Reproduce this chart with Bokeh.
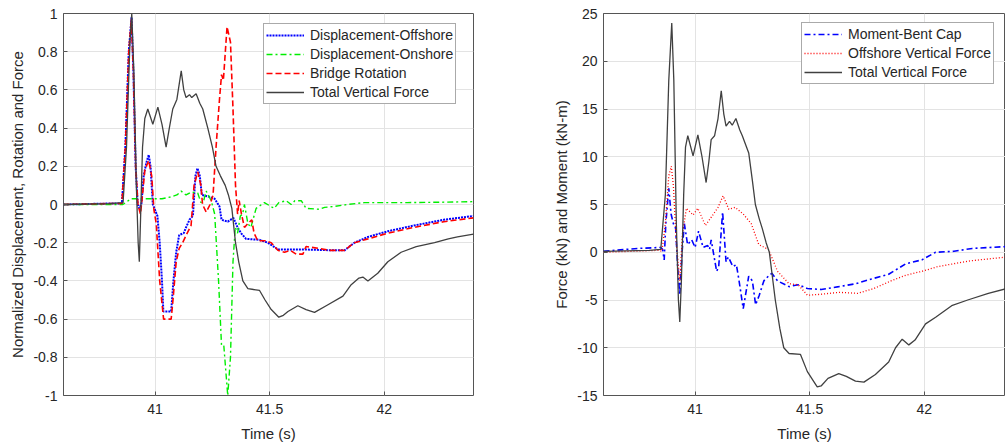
from bokeh.plotting import figure
from bokeh.layouts import row
from bokeh.models import FixedTicker
from bokeh.embed import file_html
from bokeh.resources import INLINE

# ---------------- Left panel data (normalized) ----------------
t_force_n = [40.60, 40.80, 40.86, 40.875, 40.89, 40.898, 40.907, 40.918, 40.926, 40.931, 40.937, 40.945,
             40.955, 40.968, 40.99, 41.012, 41.03, 41.048, 41.062, 41.077, 41.095, 41.114, 41.125, 41.135,
             41.15, 41.16, 41.179, 41.195, 41.208, 41.23, 41.25, 41.266, 41.285, 41.306, 41.32, 41.335,
             41.351, 41.365, 41.383, 41.405, 41.43, 41.456, 41.48, 41.507, 41.54, 41.56, 41.58, 41.623,
             41.659, 41.696, 41.747, 41.82, 41.856, 41.89, 41.907, 41.929, 41.972, 42.016, 42.074, 42.14,
             42.22, 42.28, 42.32, 42.39]
force_n = [0.0, 0.005, 0.01, 0.3, 0.85, 1.0, 0.7, 0.1, -0.2, -0.3, -0.05, 0.3,
           0.45, 0.50, 0.42, 0.51, 0.42, 0.30, 0.40, 0.50, 0.55, 0.70, 0.60, 0.56,
           0.575, 0.56, 0.58, 0.53, 0.50, 0.40, 0.30, 0.20, 0.15, 0.10, 0.05, -0.02,
           -0.20, -0.30, -0.40, -0.44, -0.445, -0.45, -0.50, -0.55, -0.59, -0.58, -0.56, -0.53,
           -0.55, -0.565, -0.53, -0.48, -0.42, -0.385, -0.38, -0.40, -0.36, -0.30, -0.25, -0.22,
           -0.20, -0.18, -0.17, -0.155]

t_off = [40.60, 40.80, 40.855, 40.87, 40.885, 40.897, 40.905, 40.915, 40.924, 40.93, 40.94, 40.95,
         40.962, 40.972, 40.98, 40.99, 41.0, 41.01, 41.02, 41.03, 41.036, 41.07, 41.08, 41.092,
         41.105, 41.125, 41.135, 41.15, 41.165, 41.176, 41.185, 41.195, 41.204, 41.237, 41.26, 41.281,
         41.29, 41.317, 41.342, 41.36, 41.375, 41.397, 41.456, 41.492, 41.536, 41.638, 41.783, 41.827,
         41.87, 41.929, 42.016, 42.13, 42.26, 42.39]
disp_off = [0.0, 0.005, 0.005, 0.3, 0.8, 0.98, 0.7, 0.2, 0.0, -0.02, 0.0, 0.15,
            0.22, 0.26, 0.2, 0.0, -0.03, -0.06, -0.2, -0.4, -0.56, -0.56, -0.4, -0.25,
            -0.16, -0.15, -0.12, -0.08, -0.06, 0.15, 0.19, 0.15, 0.05, 0.04, 0.03, -0.01,
            -0.08, -0.09, -0.07, -0.12, -0.15, -0.18, -0.185, -0.20, -0.235, -0.235, -0.24, -0.24,
            -0.20, -0.17, -0.14, -0.11, -0.08, -0.06]

t_on = [40.60, 40.859, 40.895, 41.03, 41.07, 41.095, 41.114, 41.135, 41.157, 41.186, 41.20, 41.212,
        41.223, 41.245, 41.26, 41.277, 41.29, 41.30, 41.317, 41.329, 41.34, 41.35, 41.36, 41.372,
        41.382, 41.39, 41.405, 41.418, 41.441, 41.477, 41.505, 41.52, 41.54, 41.572, 41.594, 41.61,
        41.638, 41.659, 41.718, 41.74, 41.783, 41.84, 41.913, 42.1, 42.25, 42.39]
disp_on = [0.0, 0.0, 0.03, 0.03, 0.04, 0.05, 0.07, 0.05, 0.065, 0.06, 0.01, 0.02,
           0.07, 0.02, -0.05, -0.40, -0.74, -0.74, -1.0, -0.8, -0.3, -0.12, -0.15, -0.06,
           -0.05, 0.0, -0.1, -0.12, -0.02, 0.01, -0.01, -0.02, 0.01, 0.02, 0.0, 0.02,
           0.02, -0.02, -0.025, -0.015, -0.01, 0.0, 0.01, 0.01, 0.012, 0.015]

t_rot = [40.60, 40.80, 40.855, 40.87, 40.885, 40.896, 40.905, 40.915, 40.925, 40.936, 40.945, 40.955,
         40.972, 40.985, 40.995, 41.005, 41.02, 41.037, 41.07, 41.078, 41.092, 41.105, 41.12, 41.14,
         41.157, 41.17, 41.186, 41.20, 41.207, 41.223, 41.24, 41.253, 41.266, 41.281, 41.29, 41.298,
         41.314, 41.329, 41.34, 41.351, 41.36, 41.367, 41.377, 41.39, 41.405, 41.422, 41.432, 41.448,
         41.48, 41.507, 41.536, 41.565, 41.59, 41.616, 41.645, 41.659, 41.718, 41.76, 41.827, 41.87,
         41.929, 42.016, 42.13, 42.26, 42.39]
rotation = [0.0, 0.005, 0.005, 0.3, 0.8, 0.97, 0.7, 0.2, 0.0, -0.05, 0.05, 0.18,
            0.23, 0.15, -0.03, -0.1, -0.4, -0.60, -0.60, -0.5, -0.3, -0.23, -0.2, -0.15,
            -0.11, 0.1, 0.17, 0.1, 0.0, -0.04, 0.0, 0.05, 0.3, 0.55, 0.68, 0.65,
            0.93, 0.85, 0.5, 0.1, -0.05, 0.02, -0.05, -0.12, -0.1, -0.08, -0.15, -0.19,
            -0.19, -0.20, -0.24, -0.25, -0.24, -0.26, -0.26, -0.22, -0.23, -0.24, -0.24, -0.20,
            -0.18, -0.15, -0.12, -0.09, -0.07]

# ---------------- Right panel data (kN, kN-m) ----------------
t_force = [40.60, 40.80, 40.85, 40.87, 40.885, 40.898, 40.907, 40.918, 40.927, 40.933, 40.94, 40.95,
           40.958, 40.968, 40.991, 41.012, 41.03, 41.048, 41.06, 41.07, 41.085, 41.10, 41.114, 41.125,
           41.135, 41.15, 41.162, 41.178, 41.195, 41.206, 41.234, 41.25, 41.263, 41.28, 41.293, 41.31,
           41.324, 41.35, 41.37, 41.387, 41.41, 41.46, 41.49, 41.533, 41.55, 41.58, 41.627, 41.66,
           41.70, 41.737, 41.787, 41.845, 41.875, 41.904, 41.933, 41.96, 42.006, 42.05, 42.12, 42.19,
           42.28, 42.36]
force_kn = [0.1, 0.2, 0.3, 6, 18, 24, 18, 3, -5, -7.3, -3, 6,
            11, 12.2, 10.1, 12.3, 10, 7.3, 9.5, 11.8, 12.2, 14, 16.9, 14.5,
            13.2, 13.7, 13.3, 14.0, 12.8, 12.2, 10.4, 7.5, 5.0, 3.5, 2.5, 1.0,
            0.0, -5, -8, -10.0, -10.6, -10.7, -12.5, -14.1, -14.0, -13.2, -12.7, -13.0,
            -13.5, -13.6, -12.8, -11.5, -10.0, -9.1, -9.7, -9.2, -7.5, -6.8, -5.6, -5.0,
            -4.3, -3.8]

t_offf = [40.60, 40.84, 40.855, 40.87, 40.885, 40.896, 40.905, 40.918, 40.933, 40.945, 40.962, 40.991,
          41.012, 41.045, 41.08, 41.10, 41.122, 41.147, 41.175, 41.21, 41.245, 41.278, 41.32, 41.36,
          41.41, 41.45, 41.49, 41.55, 41.627, 41.71, 41.78, 41.855, 41.92, 41.99, 42.06, 42.13,
          42.2, 42.36]
off_force = [0.0, 0.2, 0.1, 3, 8, 9, 7, 1, -3, 2, 4.6, 3.9,
             4.6, 2.8, 4.0, 4.7, 5.9, 4.5, 4.7, 4.0, 3.0, 0.8, 0.3, -2.0,
             -3.3, -3.4, -4.5, -4.4, -4.2, -4.3, -3.8, -3.0, -2.4, -2.0, -1.5, -1.2,
             -0.9, -0.5]

t_mom = [40.60, 40.75, 40.85, 40.858, 40.865, 40.872, 40.885, 40.895, 40.905, 40.915, 40.925, 40.933,
         40.943, 40.953, 40.967, 40.985, 41.0, 41.015, 41.035, 41.055, 41.063, 41.07, 41.094, 41.103,
         41.12, 41.135, 41.145, 41.165, 41.18, 41.19, 41.21, 41.234, 41.25, 41.264, 41.28, 41.30,
         41.32, 41.335, 41.36, 41.41, 41.45, 41.49, 41.55, 41.627, 41.70, 41.77, 41.845, 41.92,
         41.99, 42.05, 42.13, 42.21, 42.36]
moment = [0.1, 0.4, 0.5, 0.3, -0.8, 3, 6.7, 4, 3, 2.5, -2, -4.5,
          0, 3, 0.8, 1.3, 0.5, 2.2, 0.5, 0.7, 0.3, 1.3, -2.0, -1.5,
          4.2, -1.0, -0.5, -1.5, -1.3, -2.7, -5.9, -2.5, -3.0, -5.5, -4.5, -3.0,
          -2.5, -2.2, -3.0, -3.6, -3.4, -3.8, -3.9, -3.6, -3.3, -2.8, -2.3, -1.2,
          -0.8, 0.0, 0.1, 0.4, 0.6]

x_ticks = [41, 41.5, 42]
x_tick_labels = ["41", "41.5", "42"]
yl_ticks = [-1, -0.8, -0.6, -0.4, -0.2, 0, 0.2, 0.4, 0.6, 0.8, 1]
yl_tick_labels = ["-1", "-0.8", "-0.6", "-0.4", "-0.2", "0", "0.2", "0.4", "0.6", "0.8", "1"]
yr_ticks = [-15, -10, -5, 0, 5, 10, 15, 20, 25]
yr_tick_labels = ["-15", "-10", "-5", "0", "5", "10", "15", "20", "25"]

FONT = "Liberation Sans"
TXT = "#262626"


def style(p, xt, xtl, yt, ytl, xlabel, ylabel):
    p.xaxis.ticker = FixedTicker(ticks=xt)
    p.xaxis.major_label_overrides = {k: v for k, v in zip(xt, xtl)}
    p.yaxis.ticker = FixedTicker(ticks=yt)
    p.yaxis.major_label_overrides = {k: v for k, v in zip(yt, ytl)}
    p.xaxis.axis_label = xlabel
    p.yaxis.axis_label = ylabel
    for ax in (p.xaxis, p.yaxis):
        ax.axis_label_text_font = FONT
        ax.axis_label_text_font_size = "15px"
        ax.axis_label_text_font_style = "normal"
        ax.axis_label_text_color = TXT
        ax.major_label_text_font = FONT
        ax.major_label_text_font_size = "14px"
        ax.major_label_text_color = TXT
        ax.axis_line_color = None
        ax.major_tick_in = 4
        ax.major_tick_out = 0
        ax.major_tick_line_color = "#555555"
        ax.minor_tick_line_color = None
        ax.major_label_standoff = 6
        ax.axis_label_standoff = 4
    p.xaxis.major_label_standoff = 8
    p.xaxis.axis_label_standoff = 8
    p.grid.grid_line_color = "#e3e3e3"
    p.grid.grid_line_width = 1
    p.outline_line_color = "#555555"
    p.outline_line_width = 1
    p.background_fill_color = "white"
    p.border_fill_color = "white"


# ---------------- Left figure ----------------
p1 = figure(width=520, height=444, x_range=(40.6, 42.39), y_range=(-1, 1),
            output_backend="svg", toolbar_location=None,
            min_border_left=63, min_border_right=47, min_border_top=12, min_border_bottom=49)
style(p1, x_ticks, x_tick_labels, yl_ticks, yl_tick_labels, "Time (s)",
      "Normalized Displacement, Rotation and Force")

p1.line(t_off, disp_off, line_color="#0000ff", line_width=2, line_dash="2 1",
        legend_label="Displacement-Offshore")
p1.line(t_on, disp_on, line_color="#00ee00", line_width=1.4, line_dash="6 3 2 3",
        legend_label="Displacement-Onshore")
p1.line(t_rot, rotation, line_color="#ff0000", line_width=1.6, line_dash="6 3",
        legend_label="Bridge Rotation")
p1.line(t_force_n, force_n, line_color="#404040", line_width=1.3,
        legend_label="Total Vertical Force")

# ---------------- Right figure ----------------
p2 = figure(width=485, height=444, x_range=(40.6, 42.355), y_range=(-15, 25),
            output_backend="svg", toolbar_location=None,
            min_border_left=83, min_border_right=0, min_border_top=13, min_border_bottom=48)
style(p2, x_ticks, x_tick_labels, yr_ticks, yr_tick_labels, "Time (s)",
      "Force (kN) and Moment (kN-m)")

p2.line(t_mom, moment, line_color="#0000ff", line_width=1.6, line_dash="6 3 2 3",
        legend_label="Moment-Bent Cap")
p2.line(t_offf, off_force, line_color="#ff0000", line_width=1.3, line_dash="1 2",
        legend_label="Offshore Vertical Force")
p2.line(t_force, force_kn, line_color="#404040", line_width=1.3,
        legend_label="Total Vertical Force")

for p, loc in ((p1, (200, 291)), (p2, (198, 311))):
    lg = p.legend[0]
    lg.location = loc
    lg.label_text_font = FONT
    lg.label_text_font_size = "14px"
    lg.label_text_color = TXT
    lg.label_height = 18
    lg.glyph_height = 18
    lg.glyph_width = 38
    lg.label_standoff = 6
    lg.spacing = 1
    lg.padding = 2
    lg.margin = 0
    lg.border_line_color = "#555555"
    lg.border_line_width = 1
    lg.background_fill_color = "white"
    lg.background_fill_alpha = 1.0

layout = row(p1, p2)
open("out.html", "w").write(file_html(layout, INLINE))
